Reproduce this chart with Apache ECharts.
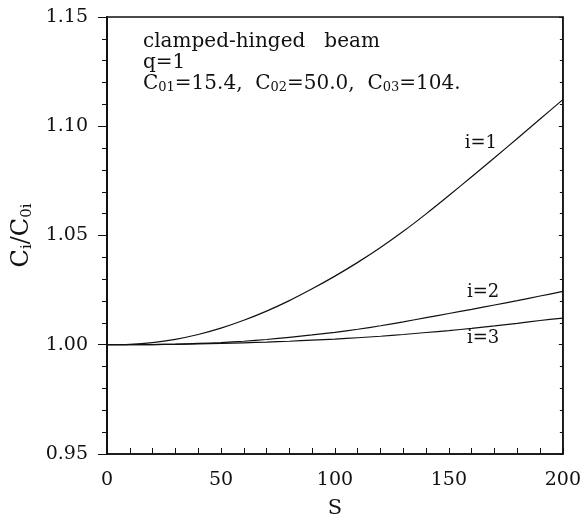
<!DOCTYPE html>
<html>
<head>
<meta charset="utf-8">
<script src="https://cdn.jsdelivr.net/npm/echarts@6/dist/echarts.min.js"></script>
<style>
  html, body { margin: 0; padding: 0; background: #fff; }
  #chart { width: 584px; height: 524px; }
</style>
</head>
<body>
<div id="chart"></div>
<script>
  // S values along the x axis
  const sValues = [0, 10, 20, 30, 40, 50, 60, 70, 80, 90, 100, 110, 120, 130, 140, 150, 160, 170, 180, 190, 200]
  // Ci/C0i, one array per mode
  const ratio1 = [1.0, 1.0002, 1.001, 1.0025, 1.0047, 1.0076, 1.0112, 1.0154, 1.0202, 1.0256, 1.0314, 1.0377, 1.0445, 1.0519, 1.0599, 1.0683, 1.0769, 1.0856, 1.0944, 1.1033, 1.1122]
  const ratio2 = [1.0, 1.0, 1.0001, 1.0003, 1.0006, 1.001, 1.0016, 1.0024, 1.0034, 1.0045, 1.0057, 1.0071, 1.0087, 1.0105, 1.0124, 1.0143, 1.0162, 1.0182, 1.0202, 1.0223, 1.0244]
  const ratio3 = [1.0, 1.0, 1.0001, 1.0002, 1.0004, 1.0006, 1.0009, 1.0012, 1.0016, 1.0021, 1.0026, 1.0032, 1.0039, 1.0047, 1.0056, 1.0065, 1.0075, 1.0086, 1.0098, 1.0111, 1.0122]
  // curve labels: [name, s, value]
  const curveLabels = [
    ['i=1', 164, 1.0923],
    ['i=2', 165, 1.0240],
    ['i=3', 165, 1.0030]
  ]
  const yTicks = { min: 0.95, max: 1.15, step: 0.05 }
  const xTicks = { min: 0, max: 200, step: 50 }

  const serif = 'DejaVu Serif'
  const ink = '#111'

  const toPairs = (ys) => sValues.map((s, k) => [s, ys[k]])

  const makeSeries = (ys, label) => ({
    type: 'line',
    data: toPairs(ys),
    showSymbol: false,
    smooth: 0.3,
    lineStyle: { color: ink, width: 1.2 },
    markPoint: {
      symbol: 'circle',
      symbolSize: 0,
      label: {
        show: true,
        position: 'inside',
        color: ink,
        fontFamily: serif,
        fontSize: 18,
        formatter: label[0]
      },
      data: [{ coord: [label[1], label[2]] }]
    }
  })

  const chart = echarts.init(document.getElementById('chart'))
  chart.setOption({
    animation: false,
    backgroundColor: '#fff',
    grid: {
      left: 107,
      right: 21,
      top: 17,
      bottom: 61,
      show: true,
      borderColor: ink,
      borderWidth: 1.5
    },
    xAxis: {
      type: 'value',
      min: xTicks.min,
      max: xTicks.max,
      interval: xTicks.step,
      name: 'S',
      nameLocation: 'middle',
      nameGap: 44,
      nameTextStyle: { fontFamily: serif, fontSize: 21, color: ink },
      axisLine: { show: true, lineStyle: { color: ink, width: 1.5 } },
      axisTick: { show: true, inside: true, length: 6, lineStyle: { color: ink } },
      minorTick: { show: true, splitNumber: 5, length: 6, lineStyle: { color: ink } },
      splitLine: { show: false },
      axisLabel: { fontFamily: serif, fontSize: 19, color: ink, margin: 17 }
    },
    yAxis: [
      {
        type: 'value',
        min: yTicks.min,
        max: yTicks.max,
        interval: yTicks.step,
        name: '{c|C}{s|i}{c|/C}{s|0i}',
        nameLocation: 'middle',
        nameGap: 63,
        nameTextStyle: {
          color: ink,
          rich: {
            c: { fontFamily: serif, fontSize: 24, color: ink, lineHeight: 27 },
            s: { fontFamily: serif, fontSize: 15, color: ink, verticalAlign: 'bottom', lineHeight: 15 }
          }
        },
        axisLine: { show: true, lineStyle: { color: ink, width: 2 } },
        axisTick: { show: true, inside: false, length: 9, lineStyle: { color: ink } },
        minorTick: { show: true, splitNumber: 5, length: 5, lineStyle: { color: ink } },
        splitLine: { show: false },
        axisLabel: {
          fontFamily: serif,
          fontSize: 19,
          color: ink,
          margin: 19,
          formatter: (v) => v.toFixed(2)
        }
      },
      {
        type: 'value',
        position: 'right',
        min: yTicks.min,
        max: yTicks.max,
        interval: yTicks.step,
        axisLine: { show: true, lineStyle: { color: ink, width: 1.5 } },
        axisTick: { show: true, inside: true, length: 4, lineStyle: { color: ink } },
        minorTick: { show: true, splitNumber: 5, length: 3, lineStyle: { color: ink } },
        splitLine: { show: false },
        axisLabel: { show: false }
      }
    ],
    graphic: [
      {
        type: 'text',
        left: 143,
        top: 32,
        style: {
          text: [
            '{c|clamped-hinged   beam}',
            '{c|q=1}',
            '{c|C}{s|01}{c|=15.4,  C}{s|02}{c|=50.0,  C}{s|03}{c|=104.}'
          ].join('\n'),
          fill: ink,
          rich: {
            c: { fontFamily: serif, fontSize: 20, fill: ink, lineHeight: 21 },
            s: { fontFamily: serif, fontSize: 13, fill: ink, verticalAlign: 'bottom', lineHeight: 13 }
          }
        }
      }
    ],
    series: [
      makeSeries(ratio1, curveLabels[0]),
      makeSeries(ratio2, curveLabels[1]),
      makeSeries(ratio3, curveLabels[2])
    ]
  })
</script>
</body>
</html>
